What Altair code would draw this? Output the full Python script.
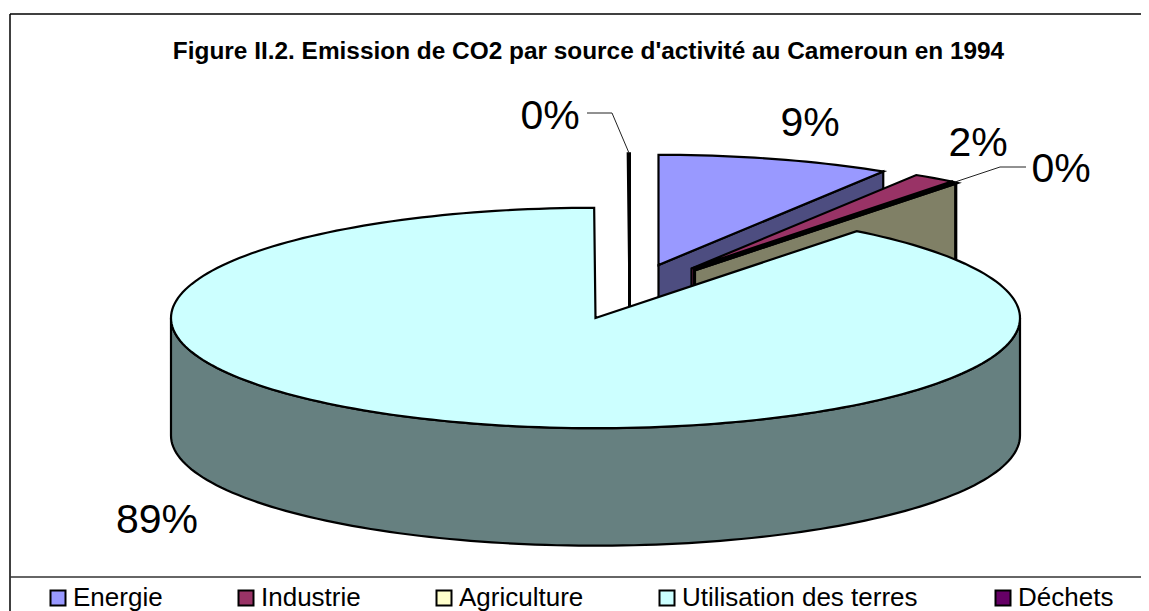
import math
import altair as alt
import pandas as pd

# ---- values ----
categories = ["Energie", "Industrie", "Agriculture", "Utilisation des terres", "Déchets"]
shares = [8.88, 1.62, 0.05, 89.4, 0.05]
pct_labels = ["9%", "2%", "0%", "89%", "0%"]
title_text = "Figure II.2. Emission de CO2 par source d'activité au Cameroun en 1994"

# ---- styles ----
top_colors = ["#9999FF", "#993366", "#FFFFCC", "#CCFFFF", "#660066"]
wall_colors = ["#4D4D80", "#993366", "#808066", "#668080", "#330033"]
outline_width = [2.2, 2.2, 3.2, 2.2, 3.0]

# ---- layout (all in picture pixels, mapped through linear scales) ----
CX, CY, RX, RY, DEPTH = 595.5, 318.0, 424.5, 110.2, 117.5
explode = [(63, -53), (96, -49.5), (99, -48), (0, 0), (34, -54)]
label_pos = [(810, 124), (978, 143.5), (1061, 170), (157, 521), (550, 117)]
legend_swatch_x = [58, 246, 444, 667, 1003]
legend_text_x = [73, 261, 459, 682, 1018]
LEGEND_Y = 598
LEGEND_TEXT_Y = 598
W, H = 1141, 611
M = 8

x_enc = alt.X("x:Q", axis=None, scale=alt.Scale(domain=[M, W], nice=False, zero=False))
y_enc = alt.Y("y:Q", axis=None, scale=alt.Scale(domain=[H, M], nice=False, zero=False))


def poly(points, fill, stroke="#000000", sw=2.2):
    df = pd.DataFrame(points, columns=["x", "y"]).reset_index()
    return (
        alt.Chart(df)
        .mark_line(interpolate="linear-closed", fill=fill, stroke=stroke, strokeWidth=sw,
                   strokeJoin="miter", clip=False)
        .encode(x=x_enc, y=y_enc, order="index:Q")
    )


def rim(ox, oy, a0, a1, dz=0.0):
    """points of the elliptic rim, angle in degrees clockwise from 12 o'clock"""
    n = max(2, int(abs(a1 - a0) / 1.5) + 2)
    out = []
    for i in range(n):
        a = math.radians(a0 + (a1 - a0) * i / (n - 1))
        out.append((CX + ox + RX * math.sin(a), CY + oy - RY * math.cos(a) + dz))
    return out


# slice angles from shares
total = sum(shares)
starts, ends = [], []
acc = 0.0
for s in shares:
    starts.append(acc * 360 / total)
    acc += s
    ends.append(acc * 360 / total)


def slice_layers(i):
    ox, oy = explode[i]
    a0, a1 = starts[i], ends[i]
    apex = (CX + ox, CY + oy)
    p1 = rim(ox, oy, a1, a1)[0]
    wall = [apex, p1, (p1[0], p1[1] + DEPTH), (apex[0], apex[1] + DEPTH)]
    top = [apex] + rim(ox, oy, a0, a1)
    return [poly(wall, wall_colors[i], sw=outline_width[i]), poly(top, top_colors[i], sw=outline_width[i])]


layers = []
# déchets, energie, industrie, agriculture: exploded slices behind the big one
for i in (4, 0, 1, 2):
    layers += slice_layers(i)

# big slice: outer wall then top
i = 3
front = rim(0, 0, 90, 270)
back = rim(0, 0, 270, 90, DEPTH)
layers.append(poly(front + back, wall_colors[i], sw=outline_width[i]))
layers.append(poly([(CX, CY)] + rim(0, 0, starts[i], ends[i]), top_colors[i], sw=outline_width[i]))

# frame
frame_left = [(10, 14), (10, H)]
frame_top = [(10, 14), (W, 14)]
frame_legend = [(10, 577), (W, 577)]


def line(points, color="#000000", sw=1.5):
    df = pd.DataFrame(points, columns=["x", "y"]).reset_index()
    return alt.Chart(df).mark_line(color=color, strokeWidth=sw).encode(x=x_enc, y=y_enc, order="index:Q")


layers += [line(frame_left), line(frame_top), line(frame_legend, "#333333")]

# leader lines
layers.append(line([(587, 113), (612, 113), (629, 153)], "#222222", 1))
layers.append(line([(955, 182), (1000, 167), (1026, 167)], "#222222", 1))

# percentage labels
lab = pd.DataFrame({"x": [p[0] for p in label_pos], "y": [p[1] for p in label_pos], "t": pct_labels})
layers.append(
    alt.Chart(lab)
    .mark_text(font="Liberation Sans", fontSize=41, color="#000000", align="center", baseline="middle")
    .encode(x=x_enc, y=y_enc, text="t:N")
)

# title
ttl = pd.DataFrame({"x": [588.5], "y": [51.5], "t": [title_text]})
layers.append(
    alt.Chart(ttl)
    .mark_text(font="Liberation Sans", fontSize=24.4, fontWeight="bold", color="#000000", align="center", baseline="middle")
    .encode(x=x_enc, y=y_enc, text="t:N")
)

# legend
leg = pd.DataFrame({"x": legend_swatch_x, "y": [LEGEND_Y] * 5, "c": top_colors})
layers.append(
    alt.Chart(leg)
    .mark_point(shape="square", filled=True, size=225, stroke="#000000", strokeWidth=2, opacity=1)
    .encode(x=x_enc, y=y_enc, fill=alt.Fill("c:N", scale=None))
)
leg_t = pd.DataFrame({"x": legend_text_x, "y": [LEGEND_TEXT_Y] * 5, "name": categories})
layers.append(
    alt.Chart(leg_t)
    .mark_text(font="Liberation Sans", fontSize=26, color="#000000", align="left", baseline="middle")
    .encode(x=x_enc, y=y_enc, text="name:N")
)

chart = (
    alt.layer(*layers)
    .properties(width=W - M, height=H - M, padding=0, background="#FFFFFF",
                autosize=alt.AutoSizeParams(type="none"))
    .configure_view(stroke=None)
)
chart.save("out.html", embed_options={"renderer": "svg", "actions": False})
